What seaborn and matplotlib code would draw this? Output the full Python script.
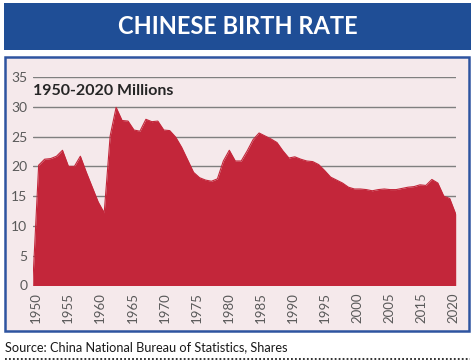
import numpy as np
import pandas as pd
import matplotlib
matplotlib.use("Agg")
import matplotlib.pyplot as plt
import seaborn as sns
from matplotlib.patches import Rectangle
from matplotlib.lines import Line2D

# Births in China, millions (first point is the empty lead-in at zero)
years = list(range(1949, 2021))
births = [0.0,
          20.2, 21.2, 21.3, 21.7, 22.7, 20.0, 20.0, 21.7, 19.0, 16.5,
          14.0, 12.2, 25.1, 29.9, 27.7, 27.6, 26.1, 25.9, 27.9, 27.5,
          27.6, 26.1, 26.0, 24.9, 23.2, 21.1, 19.0, 18.1, 17.7, 17.5,
          17.9, 20.9, 22.7, 20.9, 20.9, 22.6, 24.5, 25.6, 25.1, 24.6,
          24.0, 22.6, 21.4, 21.6, 21.2, 20.9, 20.8, 20.3, 19.3, 18.2,
          17.7, 17.2, 16.5, 16.2, 16.2, 16.1, 15.9, 16.1, 16.2, 16.1,
          16.1, 16.3, 16.5, 16.6, 16.9, 16.8, 17.8, 17.2, 15.0, 14.6,
          12.0]
tick_labels = ['1950', '1955', '1960', '1965', '1970', '1975', '1980',
               '1985', '1990', '1995', '2000', '2005', '2015', '2020']

df = pd.DataFrame({'year': years, 'births': births})

sns.set_style("white")
plt.rcParams['font.family'] = ['Lato', 'DejaVu Sans']

fig = plt.figure(figsize=(4.75, 3.63), dpi=100)
fig.patch.set_facecolor('white')

# Title banner
fig.patches.append(Rectangle((4 / 475, 1 - 50 / 363), 467 / 475, 47 / 363,
                             transform=fig.transFigure, facecolor='#1F4E96',
                             edgecolor='none', zorder=-1))
fig.text(0.5, 1 - 27 / 363, 'CHINESE BIRTH RATE', color='white',
         fontsize=17, fontweight='bold', ha='center', va='center')

# Chart panel
fig.patches.append(Rectangle((5 / 475, 1 - 331 / 363), 464 / 475, 274 / 363,
                             transform=fig.transFigure, facecolor='#F5E9EB',
                             edgecolor='#2E54A0', linewidth=1.8, zorder=-1))

ax = fig.add_axes([32.7 / 475, 1 - 285.5 / 363, 423 / 475, 208.5 / 363])
ax.set_facecolor('none')
ax.set_zorder(2)

red = '#C3263A'
ax.fill_between(df['year'], df['births'], color=red, linewidth=0, zorder=3)
sns.lineplot(data=df, x='year', y='births', ax=ax, color=red,
             linewidth=0.8, zorder=3)

ax.set_xlim(1949, 2020)
ax.set_ylim(0, 35)
ax.set_yticks(range(0, 36, 5))
ax.yaxis.grid(True, color='#7F7F7F', linewidth=1.0, zorder=1)
ax.xaxis.grid(False)
ax.set_axisbelow(True)
for s in ax.spines.values():
    s.set_visible(False)

ax.set_xticks(np.linspace(1949.55, 2019.7, len(tick_labels)))
ax.set_xticklabels(tick_labels, rotation=90)
ax.tick_params(axis='x', length=0, pad=5, labelsize=9.5, colors='#595959')
ax.tick_params(axis='y', length=0, pad=4, labelsize=10, colors='#595959')
ax.set_xlabel('')
ax.set_ylabel('')

ax.text(0.0, 0.933, '1950-2020 Millions', transform=ax.transAxes,
        fontsize=11.5, fontweight='bold', color='#262626', va='center',
        ha='left', zorder=5)

# Source and dotted rule
fig.text(5 / 475, 1 - 347.5 / 363, 'Source: China National Bureau of Statistics, Shares',
         fontsize=9.2, color='#1A1A1A', ha='left', va='center')
fig.lines.append(Line2D([5 / 475, 470 / 475], [1 - 359 / 363, 1 - 359 / 363],
                        transform=fig.transFigure, color='#222222',
                        linestyle=(0, (1, 1.2)), linewidth=1.3))

fig.savefig('out.png', dpi=100)
